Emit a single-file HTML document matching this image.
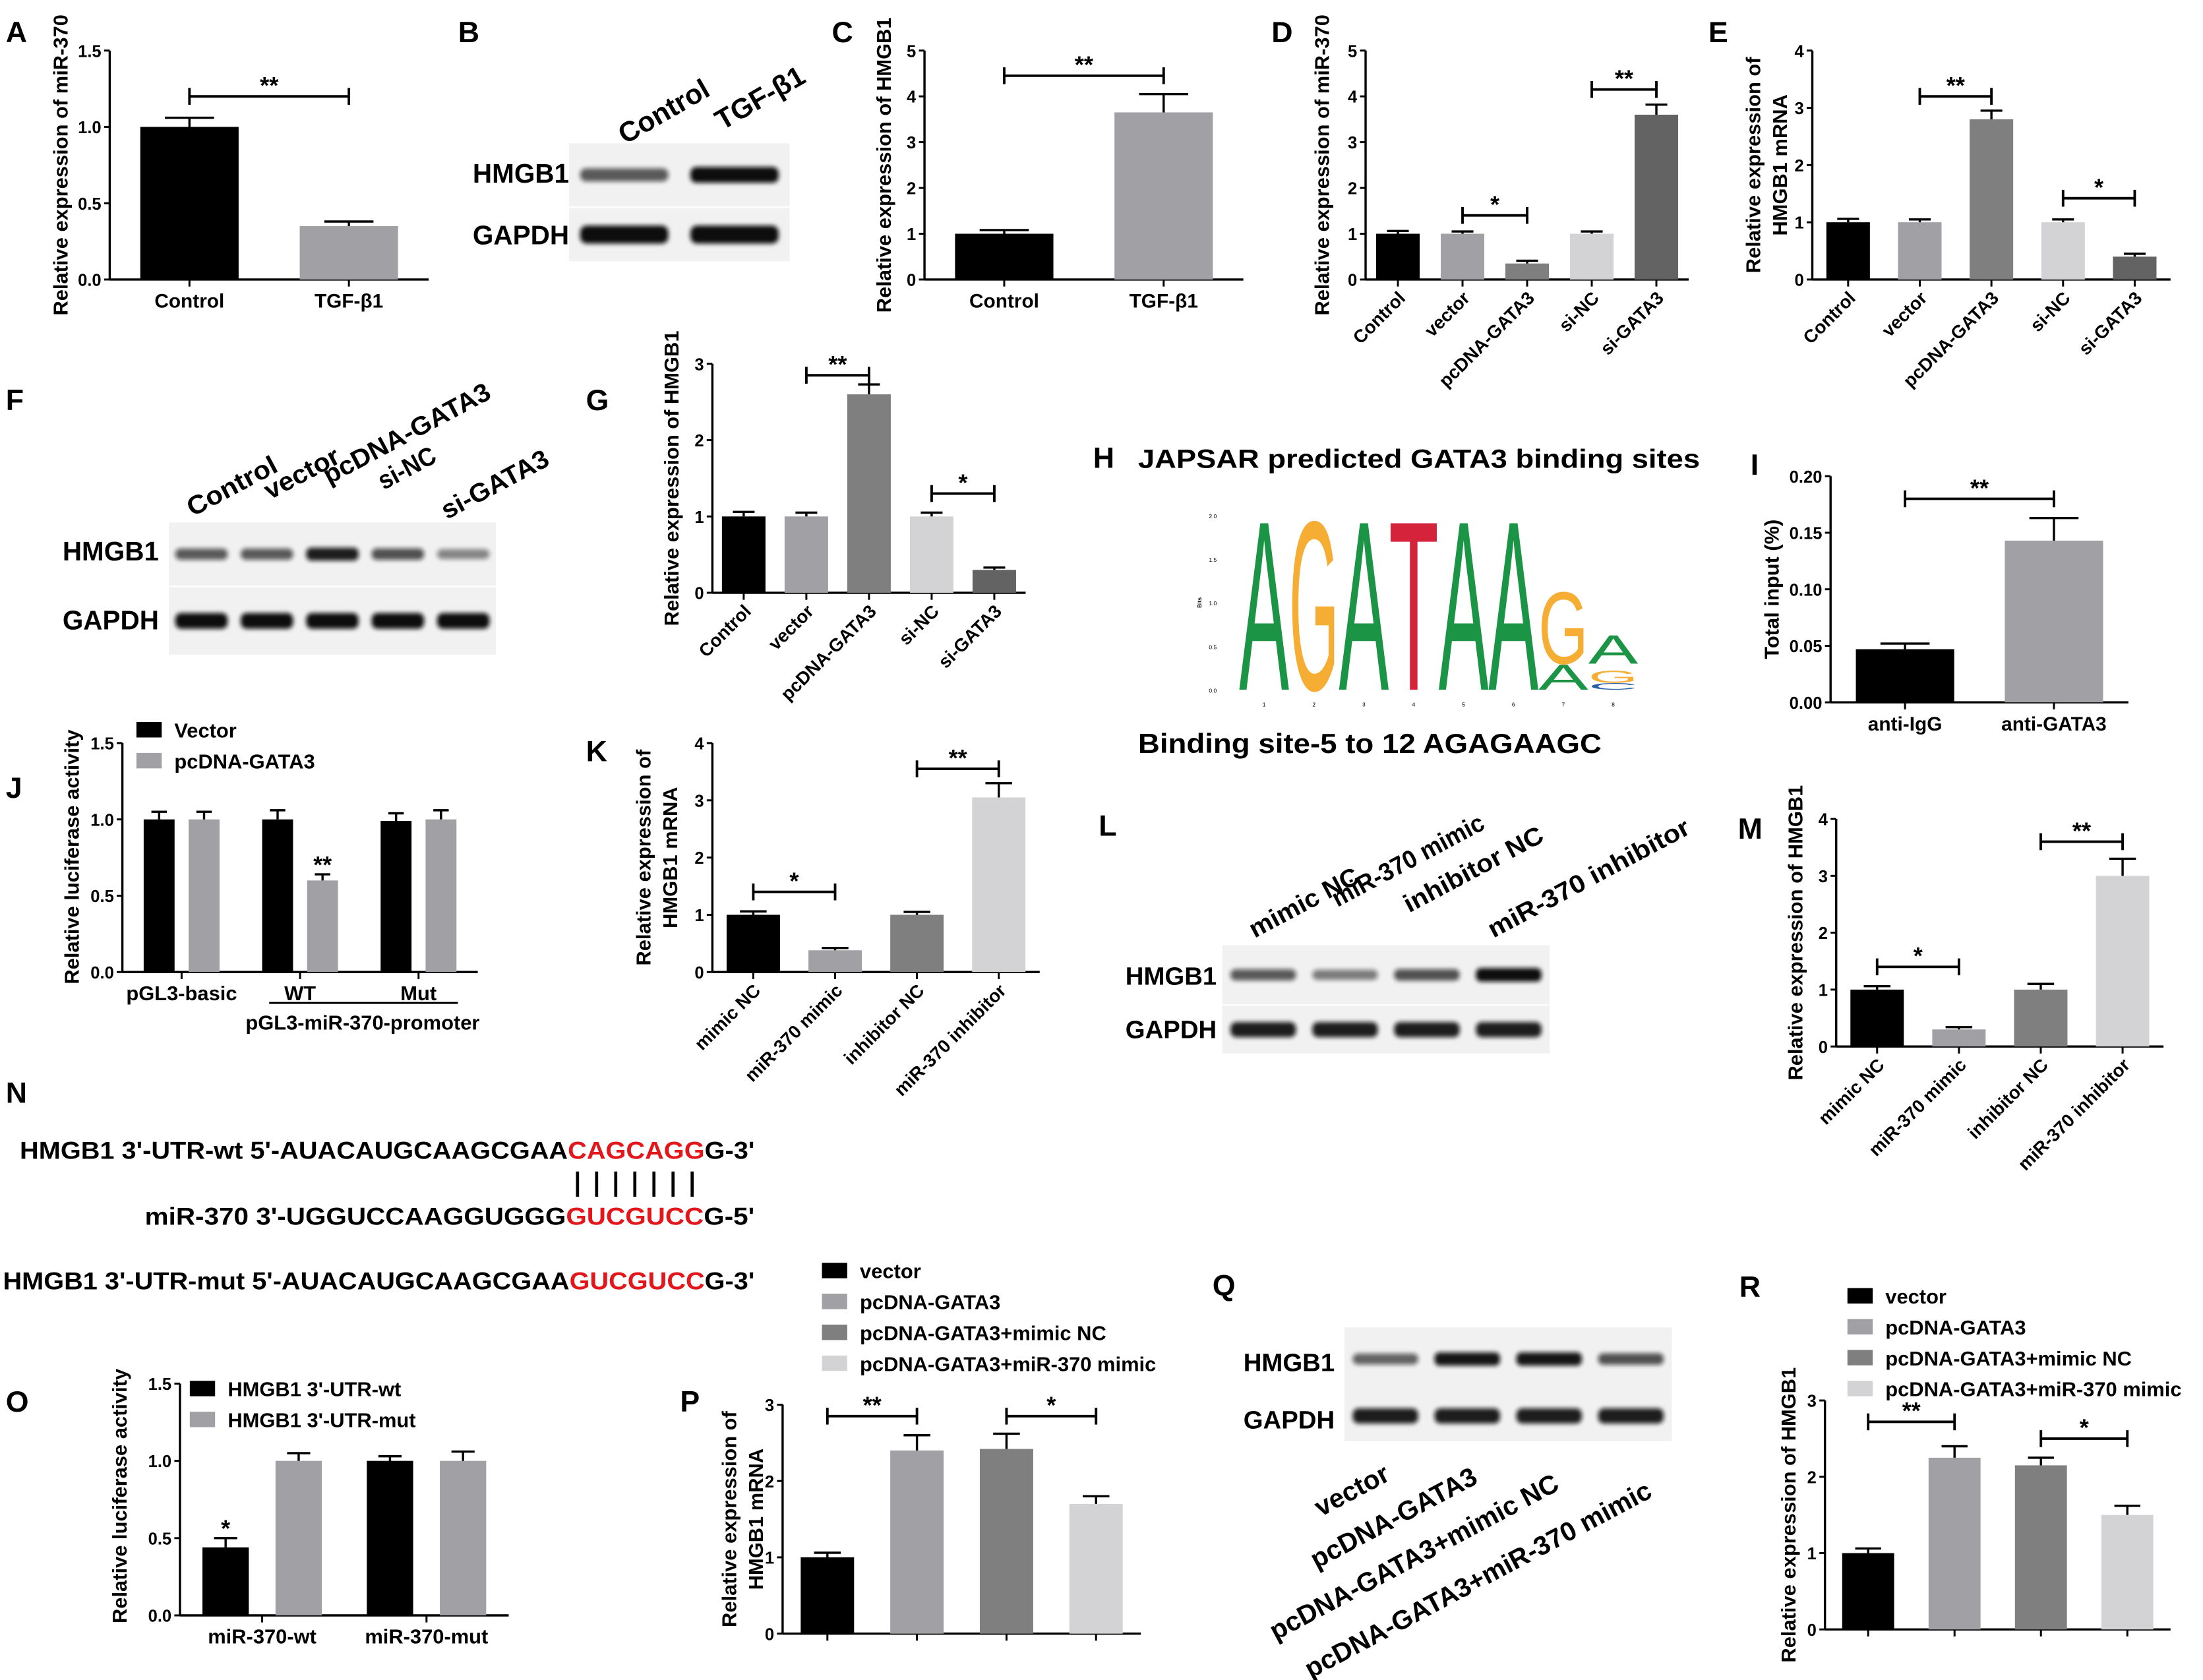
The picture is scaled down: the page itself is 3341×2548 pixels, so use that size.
<!DOCTYPE html>
<html><head><meta charset="utf-8">
<style>
html,body{margin:0;padding:0;background:#fff;}
svg{display:block;}
text{font-family:"Liberation Sans",Arial,sans-serif;font-weight:bold;}
</style></head>
<body>
<svg id="fig" width="3341" height="2548" viewBox="0 0 1568 1196" xmlns="http://www.w3.org/2000/svg">
<defs>
<filter id="blur" x="-20%" y="-50%" width="140%" height="200%"><feGaussianBlur stdDeviation="1.6"/></filter>
</defs>
<rect width="1568" height="1196" fill="#fff"/>
</svg>
<script>
// ---------- DATA ----------
const catsA=['Control','TGF-β1']; const valsA=[1.0,0.35]; const errA=[0.06,0.03];
const ticksA=[0,0.5,1.0,1.5];
const catsC=['Control','TGF-β1']; const valsC=[1.0,3.65]; const errC=[0.08,0.4];
const ticksC=[0,1,2,3,4,5];
const catsD=['Control','vector','pcDNA-GATA3','si-NC','si-GATA3']; const valsD=[1,1,0.35,1,3.6]; const errD=[0.06,0.05,0.06,0.05,0.22];
const ticksD=[0,1,2,3,4,5];
const catsE=['Control','vector','pcDNA-GATA3','si-NC','si-GATA3']; const valsE=[1,1,2.8,1,0.4]; const errE=[0.06,0.05,0.15,0.05,0.05];
const ticksE=[0,1,2,3,4];
const catsG=['Control','vector','pcDNA-GATA3','si-NC','si-GATA3']; const valsG=[1,1,2.6,1,0.3]; const errG=[0.06,0.05,0.13,0.05,0.03];
const ticksG=[0,1,2,3];
const catsI=['anti-IgG','anti-GATA3']; const valsI=[0.047,0.143]; const errI=[0.005,0.02];
const ticksI=[0,0.05,0.10,0.15,0.20];
const groupsJ=['pGL3-basic','WT','Mut']; const vectorJ=[1,1,0.99]; const gataJ=[1,0.6,1]; const errVecJ=[0.05,0.06,0.05]; const errGataJ=[0.05,0.04,0.06];
const ticksJ=[0,0.5,1.0,1.5];
const catsK=['mimic NC','miR-370 mimic','inhibitor NC','miR-370 inhibitor']; const valsK=[1,0.38,1,3.05]; const errK=[0.06,0.04,0.05,0.25];
const ticksK=[0,1,2,3,4];
const catsM=['mimic NC','miR-370 mimic','inhibitor NC','miR-370 inhibitor']; const valsM=[1,0.3,1,3.0]; const errM=[0.06,0.04,0.1,0.3];
const ticksM=[0,1,2,3,4];
const groupsO=['miR-370-wt','miR-370-mut']; const wtO=[0.44,1.0]; const mutO=[1.0,1.0]; const errWtO=[0.06,0.03]; const errMutO=[0.05,0.06];
const ticksO=[0,0.5,1.0,1.5];
const catsP=['vector','pcDNA-GATA3','pcDNA-GATA3+mimic NC','pcDNA-GATA3+miR-370 mimic']; const valsP=[1,2.4,2.42,1.7]; const errP=[0.06,0.2,0.2,0.1];
const ticksP=[0,1,2,3];
const catsR=['vector','pcDNA-GATA3','pcDNA-GATA3+mimic NC','pcDNA-GATA3+miR-370 mimic']; const valsR=[1,2.25,2.15,1.5]; const errR=[0.06,0.15,0.1,0.12];
const ticksR=[0,1,2,3];

const svg=document.getElementById('fig');
const NS='http://www.w3.org/2000/svg';
function el(tag,attrs,parent){const e=document.createElementNS(NS,tag);for(const k in attrs)e.setAttribute(k,attrs[k]);(parent||svg).appendChild(e);return e;}
function txt(s,x,y,size,anchor,parent,extra){const e=el('text',Object.assign({x:x,y:y,'font-size':size,'text-anchor':anchor||'start',fill:'#000'},extra||{}),parent);e.textContent=s;return e;}
function grp(name){const g=el('g',{});return g;}

function yScale(yTop,yBot,max){return v=>yBot-(v/max)*(yBot-yTop);}

function axes(g,x0,yTop,yBot,xEnd,ticks,dec,ys,ticksX){
  const ya=el('line',{x1:x0,y1:yTop,x2:x0,y2:yBot,stroke:'#000','stroke-width':1.6},g);
  
  const xa=el('line',{x1:x0,y1:yBot,x2:xEnd,y2:yBot,stroke:'#000','stroke-width':1.6},g);
  
  ticks.forEach(t=>{
    el('line',{x1:x0-4,y1:ys(t),x2:x0,y2:ys(t),stroke:'#000','stroke-width':1.4},g);
    const tl=txt(t.toFixed(dec),x0-6,ys(t)+4.5,12,'end',g);
    
  });
  (ticksX||[]).forEach(x=>el('line',{x1:x,y1:yBot,x2:x,y2:yBot+5,stroke:'#000','stroke-width':1.4},g));
}
function bar(g,cx,w,v,e,color,ys,yBot,name){
  const r=el('rect',{x:cx-w/2,y:ys(v),width:w,height:yBot-ys(v),fill:color},g);
  
  const yt=ys(v+e);
  el('line',{x1:cx,y1:ys(v),x2:cx,y2:yt,stroke:'#000','stroke-width':1.6},g);
  el('line',{x1:cx-w/4,y1:yt,x2:cx+w/4,y2:yt,stroke:'#000','stroke-width':1.6},g);
}
function bracket(g,x1,x2,y,label){
  el('line',{x1:x1,y1:y,x2:x2,y2:y,stroke:'#000','stroke-width':1.8},g);
  el('line',{x1:x1,y1:y-6,x2:x1,y2:y+6,stroke:'#000','stroke-width':1.8},g);
  el('line',{x1:x2,y1:y-6,x2:x2,y2:y+6,stroke:'#000','stroke-width':1.8},g);
  const t=txt(label,(x1+x2)/2,y-2,17,'middle',g);
}
function ylab(g,lines,x,yc,size){
  lines.forEach((l,i)=>{const t=txt(l,0,0,size||14.5,'middle',g,{transform:`translate(${x+i*19},${yc}) rotate(-90)`});
    });
}
function panelLetter(s,x,y){const t=txt(s,x,y,21,'start');}

function simpleChart(name,cats,vals,errs,ticks,dec,colors,o){
  const g=grp(name);
  const ys=yScale(o.yTop,o.yBot,ticks[ticks.length-1]);
  const n=cats.length, slot=(o.xEnd-o.x0)/n;
  const cx=i=>o.x0+slot*(i+0.5);
  axes(g,o.x0,o.yTop,o.yBot,o.xEnd,ticks,dec,ys,cats.map((c,i)=>cx(i)));
  cats.forEach((c,i)=>{
    bar(g,cx(i),o.bw,vals[i],errs[i],colors[i],ys,o.yBot,'bar-'+c.toLowerCase().replace(/[^a-z0-9]+/g,'-'));
    if(o.noX) return;
    let t;
    if(o.rot){t=txt(c,0,0,13,'end',g,{transform:`translate(${cx(i)+6},${o.yBot+14}) rotate(-45)`});}
    else t=txt(c,cx(i),o.yBot+20,14,'middle',g);
    
  });
  (o.br||[]).forEach(b=>bracket(g,cx(b[0]),cx(b[1]),ys(b[2]),b[3]));
  ylab(g,o.ylabel,o.ylx,(o.yTop+o.yBot)/2,o.yls);
  return {g,ys,cx};
}
const K='#000', G1='#a1a1a5', G2='#7f7f7f', G3='#d3d3d5', G4='#636363';

panelLetter('A',4,30);
simpleChart('chart-a',catsA,valsA,errA,ticksA,1,[K,G1],{x0:78,yTop:36,yBot:199,xEnd:305,bw:70,ylabel:['Relative expression of miR-370'],ylx:48,br:[[0,1,1.2,'**']]});
panelLetter('C',592,30);
simpleChart('chart-c',catsC,valsC,errC,ticksC,0,[K,G1],{x0:658,yTop:36,yBot:199,xEnd:885,bw:70,ylabel:['Relative expression of HMGB1'],ylx:634,br:[[0,1,4.45,'**']]});
panelLetter('D',905,30);
simpleChart('chart-d',catsD,valsD,errD,ticksD,0,[K,G1,G2,G3,G4],{x0:972,yTop:36,yBot:199,xEnd:1202,bw:31,rot:true,ylabel:['Relative expression of miR-370'],ylx:946,br:[[1,2,1.4,'*'],[3,4,4.15,'**']]});
panelLetter('E',1216,30);
simpleChart('chart-e',catsE,valsE,errE,ticksE,0,[K,G1,G2,G3,G4],{x0:1290,yTop:36,yBot:199,xEnd:1545,bw:31,rot:true,ylabel:['Relative expression of','HMGB1 mRNA'],ylx:1253,br:[[1,2,3.2,'**'],[3,4,1.42,'*']]});
panelLetter('G',417,292);
simpleChart('chart-g',catsG,valsG,errG,ticksG,0,[K,G1,G2,G3,G4],{x0:507,yTop:259,yBot:422,xEnd:730,bw:31,rot:true,ylabel:['Relative expression of HMGB1'],ylx:483,br:[[1,2,2.85,'**'],[3,4,1.3,'*']]});
panelLetter('I',1246,338);
simpleChart('chart-i',catsI,valsI,errI,ticksI,2,[K,G1],{x0:1303,yTop:339,yBot:500,xEnd:1515,bw:70,ylabel:['Total input (%)'],ylx:1266,br:[[0,1,0.18,'**']]});
panelLetter('K',417,542);
simpleChart('chart-k',catsK,valsK,errK,ticksK,0,[K,G1,G2,G3],{x0:507,yTop:529,yBot:692,xEnd:740,bw:38,rot:true,ylabel:['Relative expression of','HMGB1 mRNA'],ylx:463,br:[[0,1,1.4,'*'],[2,3,3.55,'**']]});
panelLetter('M',1237,597);
simpleChart('chart-m',catsM,valsM,errM,ticksM,0,[K,G1,G2,G3],{x0:1307,yTop:583,yBot:745,xEnd:1540,bw:38,rot:true,ylabel:['Relative expression of HMGB1'],ylx:1283,br:[[0,1,1.4,'*'],[2,3,3.6,'**']]});
panelLetter('P',484,1005);
simpleChart('chart-p',catsP,valsP,errP,ticksP,0,[K,G1,G2,G3],{x0:557,yTop:1000,yBot:1163,xEnd:812,bw:38,noX:true,ylabel:['Relative expression of','HMGB1 mRNA'],ylx:524,br:[[0,1,2.85,'**'],[2,3,2.85,'*']]});
panelLetter('R',1238,923);
simpleChart('chart-r',catsR,valsR,errR,ticksR,0,[K,G1,G2,G3],{x0:1299,yTop:997,yBot:1160,xEnd:1545,bw:37,noX:true,ylabel:['Relative expression of HMGB1'],ylx:1278,br:[[0,1,2.72,'**'],[2,3,2.5,'*']]});

function legend(name,items,x,y,dy,size){
  const g=grp(name);
  items.forEach((it,i)=>{
    const r=el('rect',{x:x,y:y+i*dy-10,width:18,height:11,fill:it[1]},g);
    
    const t=txt(it[0],x+27,y+i*dy+1,size||14.5,'start',g);
  });
}
legend('legend-p',catsP.map((c,i)=>[c,[K,G1,G2,G3][i]]),585,909,22);
legend('legend-r',catsR.map((c,i)=>[c,[K,G1,G2,G3][i]]),1315,927,22);

function groupChart(name,groups,s1,s2,e1,e2,ticks,o){
  const g=grp(name);
  const ys=yScale(o.yTop,o.yBot,ticks[ticks.length-1]);
  const slot=(o.xEnd-o.x0)/groups.length;
  const gc=i=>o.x0+slot*(i+0.5);
  axes(g,o.x0,o.yTop,o.yBot,o.xEnd,ticks,1,ys,groups.map((c,i)=>gc(i)));
  groups.forEach((c,i)=>{
    bar(g,gc(i)-o.off,o.bw,s1[i],e1[i],K,ys,o.yBot,'bar-'+c.toLowerCase()+'-s1');
    bar(g,gc(i)+o.off,o.bw,s2[i],e2[i],G1,ys,o.yBot,'bar-'+c.toLowerCase()+'-s2');
    const t=txt(c,gc(i),o.yBot+20,14.5,'middle',g);
  });
  return {g,ys,gc};
}
panelLetter('J',4,568);
const J=groupChart('chart-j',groupsJ,vectorJ,gataJ,errVecJ,errGataJ,ticksJ,{x0:87,yTop:529,yBot:692,xEnd:340,bw:22,off:16});
ylab(J.g,['Relative luciferase activity'],56,610);
txt('**',J.gc(1)+16,J.ys(gataJ[1]+errGataJ[1])-1,17,'middle',J.g);
el('line',{x1:J.gc(1)-22,y1:714,x2:J.gc(2)+28,y2:714,stroke:'#000','stroke-width':1.4},J.g);
txt('pGL3-miR-370-promoter',258,733,14.5,'middle',J.g);
legend('legend-j',[['Vector',K],['pcDNA-GATA3',G1]],97,524,22);

panelLetter('O',4,1005);
const O=groupChart('chart-o',groupsO,wtO,mutO,errWtO,errMutO,ticksO,{x0:128,yTop:985,yBot:1150,xEnd:362,bw:33,off:26});
ylab(O.g,['Relative luciferase activity'],90,1065);
txt('*',O.gc(0)-26,O.ys(wtO[0]+errWtO[0])-1,17,'middle',O.g);
legend('legend-o',[['HMGB1 3\'-UTR-wt',K],["HMGB1 3'-UTR-mut",G1]],135,993,22);

// ---------- western blots ----------
function blot(name,x,y,w,h,lanes,intens,thick){
  const g=grp(name);
  el('rect',{x:x,y:y,width:w,height:h,fill:'#f1f1f1'},g);
  const lw=w/lanes.length;
  lanes.forEach((c,i)=>{
    const a=intens[i];
    const b=el('rect',{x:x+i*lw+lw*0.1,y:y+h/2-thick*(0.5+a*0.3),width:lw*0.8,height:thick*(1+a*0.6),rx:thick*0.6,fill:'#111',opacity:0.25+0.75*a,filter:'url(#blur)'},g);
    
  });
  return g;
}
function rowLabel(s,x,y,size){const t=txt(s,x,y,size||19,'end');}
function laneLabels(labels,pos,size){labels.forEach((l,i)=>{
  const extra={transform:`translate(${pos[i][0]},${pos[i][1]}) rotate(${pos[i][2]})`};
  if(pos[i][3]){extra.textLength=pos[i][3];extra.lengthAdjust='spacingAndGlyphs';}
  const t=txt(l,0,0,size,'start',svg,extra);});}

panelLetter('B',326,30);
blot('blot-b-hmgb1',405,102,157,45,[0,1],[0.55,1.0],7);
blot('blot-b-gapdh',405,148,157,38,[0,1],[1,1],8);
rowLabel('HMGB1',405,130);rowLabel('GAPDH',405,174);
laneLabels(['Control','TGF-β1'],[[445,103,-30],[514,93,-30]],20);

panelLetter('F',4,292);
blot('blot-f-hmgb1',120,372,233,45,[0,1,2,3,4],[0.55,0.55,0.9,0.6,0.3],6);
blot('blot-f-gapdh',120,418,233,48,[0,1,2,3,4],[1,1,1,1,1],7);
rowLabel('HMGB1',113,399);rowLabel('GAPDH',113,448);
laneLabels(['Control','vector','pcDNA-GATA3','si-NC','si-GATA3'],[[137,368,-28,70],[192,356,-28,58],[234,345,-28,132],[273,349,-28,44],[318,370,-28,84]],18.5);

panelLetter('L',782,595);
blot('blot-l-hmgb1',870,673,233,42,[0,1,2,3],[0.55,0.35,0.6,1.0],6);
blot('blot-l-gapdh',870,716,233,34,[0,1,2,3],[0.9,0.9,0.9,0.9],7);
rowLabel('HMGB1',866,701,18);rowLabel('GAPDH',866,739,18);
laneLabels(['mimic NC','miR-370 mimic','inhibitor NC','miR-370 inhibitor'],[[893,668,-28,86],[952,646,-28,120],[1003,650,-28,110],[1063,668,-28,160]],18);

panelLetter('Q',863,922);
blot('blot-q-hmgb1',957,945,233,45,[0,1,2,3],[0.5,0.95,0.95,0.6],6);
blot('blot-q-gapdh',957,990,233,36,[0,1,2,3],[0.9,0.9,0.9,0.9],7);
rowLabel('HMGB1',950,976,18);rowLabel('GAPDH',950,1017,18);
laneLabels(['vector','pcDNA-GATA3','pcDNA-GATA3+mimic NC','pcDNA-GATA3+miR-370 mimic'],[[940,1080,-28],[937,1117,-28],[908,1168,-28],[933,1195,-28]],19);

// ---------- H: sequence logo ----------
(function(){
  const g=grp('sequence-logo');
  txt('H',778,333,21,'start',g);
  txt('JAPSAR predicted GATA3 binding sites',810,333,18.5,'start',g,{textLength:400,lengthAdjust:'spacingAndGlyphs'});
  txt('Binding site-5 to 12 AGAGAAGC',810,536,19.5,'start',g,{textLength:330,lengthAdjust:'spacingAndGlyphs'});
  const y0=491,y2=367,bits=v=>y0-(v/2)*(y0-y2);
  const letters=[['A',0,2,'#1b9446',0],['G',1,2,'#f5ad33',0],['A',2,2,'#1b9446',0],['T',3,2,'#d4233b',0],['A',4,2,'#1b9446',0],['A',5,2,'#1b9446',0],
    ['A',6,0.3,'#1b9446',0],['G',6,1.15,'#f5ad33',0.3],['C',7,0.08,'#2a5ea8',0],['G',7,0.22,'#f5ad33',0.08],['A',7,0.64,'#1b9446',0.3]];
  const cw=35.5,xs=882;
  letters.forEach(l=>{
    const yb=bits(l[4]), h=yb-bits(l[2]);
    const t=el('text',{x:0,y:0,'font-size':100,style:`fill:${l[3]};font-weight:normal`,textLength:cw,lengthAdjust:'spacingAndGlyphs',transform:`translate(${xs+l[1]*cw},${yb}) scale(1,${h/72})`},g);
    t.textContent=l[0];
  });
  [0,0.5,1,1.5,2].forEach(v=>{const t=el('text',{x:866,y:bits(v)+2,'font-size':4,'text-anchor':'end',style:'font-weight:normal'},g);t.textContent=v.toFixed(1);});
  for(let i=0;i<8;i++){const t=el('text',{x:xs+cw*(i+0.5),y:503,'font-size':4,'text-anchor':'middle',style:'font-weight:normal'},g);t.textContent=i+1;}
  const bt=el('text',{x:0,y:0,'font-size':4,'text-anchor':'middle',transform:'translate(855,429) rotate(-90)'},g);bt.textContent='Bits';
})();
// ---------- N: sequences ----------
(function(){
  const g=grp('sequence-alignment');
  function line(parts,x,y,len){const t=el('text',{x:x,y:y,'font-size':17.5,textLength:len,lengthAdjust:'spacingAndGlyphs',fill:'#000'},g);
    parts.forEach(p=>{const s=el('tspan',{style:'fill:'+(p[1]||'#000')},t);s.textContent=p[0];});}
  txt('N',4,785,21,'start',g);
  line([["HMGB1 3'-UTR-wt 5'-AUACAUGCAAGCGAA"],['CAGCAGG','#e3161b'],["G-3'"]],14,825,523);
  line([["miR-370  3'-UGGUCCAAGGUGGG"],['GUCGUCC','#e3161b'],["G-5'"]],103,872,434);
  line([["HMGB1 3'-UTR-mut 5'-AUACAUGCAAGCGAA"],['GUCGUCC','#e3161b'],["G-3'"]],2,918,535);
  for(let i=0;i<7;i++) el('line',{x1:411+i*13.6,y1:834,x2:411+i*13.6,y2:852,stroke:'#000','stroke-width':2.2},g);
})();
</script>
</body></html>
